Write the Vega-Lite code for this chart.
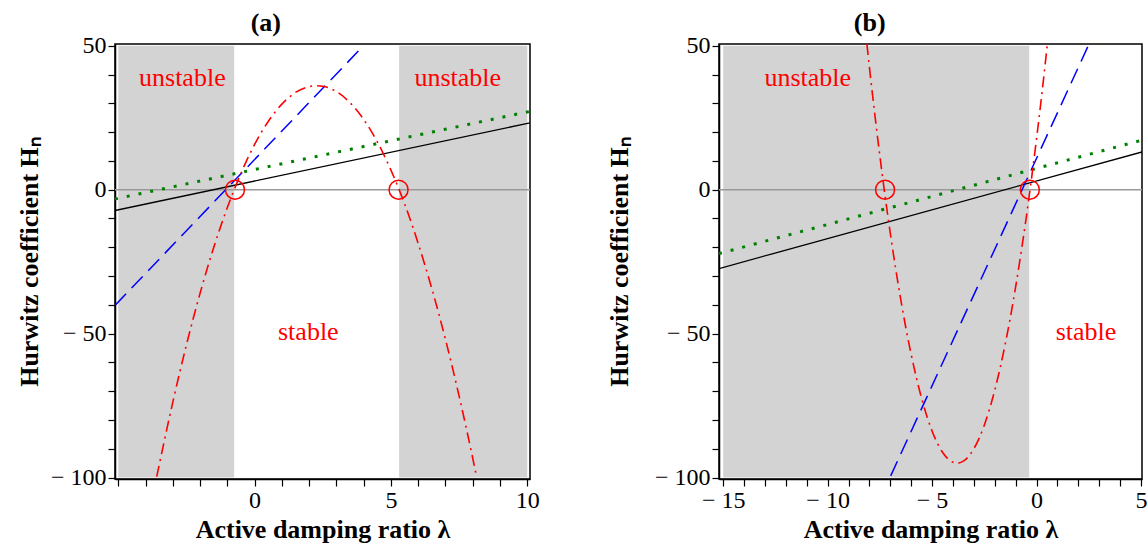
{
  "$schema": "https://vega.github.io/schema/vega-lite/v6.json",
  "background": "white",
  "padding": {"left": 15, "top": 8, "right": 0, "bottom": 3},
  "spacing": 189,
  "bounds": "flush",
  "config": {
    "view": {"stroke": "black", "strokeWidth": 1.5},
    "font": "Liberation Serif",
    "axis": {
      "grid": false, "domainColor": "black", "domainWidth": 1.5, "tickColor": "black", "tickWidth": 1.2, "tickSize": 7, "labelPadding": 2,
      "labelFont": "Liberation Serif", "labelFontSize": 24, "labelColor": "black", "labelOverlap": false, "labelFlush": false,
      "titleFont": "Liberation Serif", "titleFontSize": 26, "titleFontWeight": "bold", "titleColor": "black"
    },
    "title": {"font": "Liberation Serif", "fontSize": 26, "fontWeight": "bold", "color": "black", "frame": "bounds", "anchor": "middle", "offset": -2}
  },
  "datasets": {
    "curvesA": [
      {"series": "black", "lam": -5.12, "H": -7.24},
      {"series": "black", "lam": 10.1, "H": 23.2},
      {"series": "green", "lam": -5.12, "H": -3.24},
      {"series": "green", "lam": 10.1, "H": 27.2},
      {"series": "blue", "lam": -5.12, "H": -40.2},
      {"series": "blue", "lam": 3.85, "H": 48.6},
      {"series": "red", "lam": -3.59, "H": -99.7},
      {"series": "red", "lam": -3.0, "H": -73.8},
      {"series": "red", "lam": -2.5, "H": -53.9},
      {"series": "red", "lam": -2.0, "H": -36.0},
      {"series": "red", "lam": -1.5, "H": -20.1},
      {"series": "red", "lam": -1.0, "H": -6.2},
      {"series": "red", "lam": -0.5, "H": 5.7},
      {"series": "red", "lam": 0.0, "H": 15.7},
      {"series": "red", "lam": 0.5, "H": 23.7},
      {"series": "red", "lam": 1.0, "H": 29.7},
      {"series": "red", "lam": 1.5, "H": 33.8},
      {"series": "red", "lam": 2.0, "H": 35.8},
      {"series": "red", "lam": 2.275, "H": 36.1},
      {"series": "red", "lam": 2.5, "H": 35.9},
      {"series": "red", "lam": 3.0, "H": 34.1},
      {"series": "red", "lam": 3.5, "H": 30.2},
      {"series": "red", "lam": 4.0, "H": 24.4},
      {"series": "red", "lam": 4.5, "H": 16.6},
      {"series": "red", "lam": 5.0, "H": 6.8},
      {"series": "red", "lam": 5.5, "H": -4.9},
      {"series": "red", "lam": 6.0, "H": -18.7},
      {"series": "red", "lam": 6.5, "H": -34.4},
      {"series": "red", "lam": 7.0, "H": -52.0},
      {"series": "red", "lam": 7.5, "H": -71.7},
      {"series": "red", "lam": 8.0, "H": -93.3},
      {"series": "red", "lam": 8.14, "H": -99.7}
    ],
    "curvesB": [
      {"series": "black", "lam": -15.2, "H": -27.4},
      {"series": "black", "lam": 5.05, "H": 13.1},
      {"series": "green", "lam": -15.2, "H": -22.2},
      {"series": "green", "lam": 5.05, "H": 17.2},
      {"series": "blue", "lam": -6.98, "H": -99.4},
      {"series": "blue", "lam": 2.47, "H": 49.9},
      {"series": "red", "lam": -8.12, "H": 50.6},
      {"series": "red", "lam": -8.0, "H": 42.6},
      {"series": "red", "lam": -7.75, "H": 26.7},
      {"series": "red", "lam": -7.5, "H": 11.8},
      {"series": "red", "lam": -7.25, "H": -2.2},
      {"series": "red", "lam": -7.0, "H": -15.1},
      {"series": "red", "lam": -6.75, "H": -27.1},
      {"series": "red", "lam": -6.5, "H": -38.1},
      {"series": "red", "lam": -6.25, "H": -48.2},
      {"series": "red", "lam": -6.0, "H": -57.2},
      {"series": "red", "lam": -5.5, "H": -72.5},
      {"series": "red", "lam": -5.0, "H": -83.8},
      {"series": "red", "lam": -4.5, "H": -91.2},
      {"series": "red", "lam": -4.0, "H": -94.7},
      {"series": "red", "lam": -3.8, "H": -95.0},
      {"series": "red", "lam": -3.5, "H": -94.3},
      {"series": "red", "lam": -3.0, "H": -90.0},
      {"series": "red", "lam": -2.5, "H": -81.8},
      {"series": "red", "lam": -2.0, "H": -69.7},
      {"series": "red", "lam": -1.75, "H": -62.2},
      {"series": "red", "lam": -1.5, "H": -53.7},
      {"series": "red", "lam": -1.25, "H": -44.3},
      {"series": "red", "lam": -1.0, "H": -33.8},
      {"series": "red", "lam": -0.75, "H": -22.4},
      {"series": "red", "lam": -0.5, "H": -10.1},
      {"series": "red", "lam": -0.25, "H": 3.3},
      {"series": "red", "lam": 0.0, "H": 17.6},
      {"series": "red", "lam": 0.25, "H": 32.9},
      {"series": "red", "lam": 0.52, "H": 50.6}
    ],
    "regionsA": [
      {"x0": -5, "x1": -0.75, "y0": -100, "y1": 50},
      {"x0": 5.3, "x1": 10, "y0": -100, "y1": 50}
    ],
    "regionsB": [
      {"x0": -15, "x1": -0.35, "y0": -100, "y1": 50}
    ],
    "zero": [{"H": 0}],
    "rootsA": [{"lam": -0.72, "H": 0}, {"lam": 5.28, "H": 0}],
    "rootsB": [{"lam": -7.25, "H": 0}, {"lam": -0.32, "H": 0}],
    "labelsA": [
      {"lam": -2.65, "H": 38.8, "text": "unstable"},
      {"lam": 7.45, "H": 38.8, "text": "unstable"},
      {"lam": 1.97, "H": -49.5, "text": "stable"}
    ],
    "labelsB": [
      {"lam": -10.95, "H": 38.8, "text": "unstable"},
      {"lam": 2.37, "H": -49.5, "text": "stable"}
    ]
  },
  "hconcat": [
    {
      "title": {"text": "(a)", "dx": -12},
      "width": 415,
      "height": 435,
      "encoding": {
        "x": {"type": "quantitative", "scale": {"domain": [-5.12, 10.1], "nice": false, "zero": false},
          "axis": {"title": "Active damping ratio λ", "labelFont": "Liberation Serif", "values": [-5,-4,-3,-2,-1,0,1,2,3,4,5,6,7,8,9,10],
            "labelExpr": "(datum.value % 5 === 0 && datum.value > -5) ? (datum.value < 0 ? '− ' + abs(datum.value) : '' + datum.value) : ''"}},
        "y": {"type": "quantitative", "scale": {"domain": [-100.5, 50.6], "nice": false, "zero": false},
          "axis": {"title": "Hurwitz coefficient Hₙ", "labelFont": "Liberation Serif", "titlePadding": 8, "values": [-100,-90,-80,-70,-60,-50,-40,-30,-20,-10,0,10,20,30,40,50],
            "labelExpr": "(datum.value % 50 === 0) ? (datum.value < 0 ? '− ' + abs(datum.value) : '' + datum.value) : ''"}}
      },
      "layer": [
        {"data": {"name": "regionsA"}, "mark": {"type": "rect", "color": "#d3d3d3"},
          "encoding": {"x": {"field": "x0"}, "x2": {"field": "x1"}, "y": {"field": "y0"}, "y2": {"field": "y1"}}},
        {"data": {"name": "zero"}, "mark": {"type": "rule", "color": "#999999", "strokeWidth": 1.5},
          "encoding": {"x": null, "y": {"field": "H"}}},
        {"data": {"name": "curvesA"}, "transform": [{"filter": "datum.series === 'black'"}],
          "mark": {"type": "line", "clip": true, "color": "#000000", "strokeWidth": 1.3},
          "encoding": {"x": {"field": "lam"}, "y": {"field": "H"}}},
        {"data": {"name": "curvesA"}, "transform": [{"filter": "datum.series === 'green'"}],
          "mark": {"type": "line", "clip": true, "color": "#008000", "strokeWidth": 3, "strokeDash": [3, 9], "strokeCap": "butt"},
          "encoding": {"x": {"field": "lam"}, "y": {"field": "H"}}},
        {"data": {"name": "curvesA"}, "transform": [{"filter": "datum.series === 'blue'"}],
          "mark": {"type": "line", "clip": true, "color": "#0000ff", "strokeWidth": 1.5, "strokeDash": [16, 8]},
          "encoding": {"x": {"field": "lam"}, "y": {"field": "H"}}},
        {"data": {"name": "curvesA"}, "transform": [{"filter": "datum.series === 'red'"}],
          "mark": {"type": "line", "clip": true, "color": "#ff0000", "strokeWidth": 1.6, "strokeDash": [11, 5, 2, 5], "interpolate": "monotone"},
          "encoding": {"x": {"field": "lam"}, "y": {"field": "H"}}},
        {"data": {"name": "rootsA"}, "mark": {"type": "point", "shape": "circle", "filled": false, "color": "#ff0000", "strokeWidth": 1.5, "size": 361, "opacity": 1},
          "encoding": {"x": {"field": "lam"}, "y": {"field": "H"}}},
        {"data": {"name": "labelsA"}, "mark": {"type": "text", "font": "Liberation Serif", "fontSize": 26, "color": "#ff0000", "align": "center", "baseline": "middle"},
          "encoding": {"x": {"field": "lam"}, "y": {"field": "H"}, "text": {"field": "text"}}}
      ]
    },
    {
      "title": {"text": "(b)", "dx": -7},
      "width": 423,
      "height": 435,
      "encoding": {
        "x": {"type": "quantitative", "scale": {"domain": [-15.2, 5.05], "nice": false, "zero": false},
          "axis": {"title": "Active damping ratio λ", "labelFont": "Liberation Serif", "values": [-15,-14,-13,-12,-11,-10,-9,-8,-7,-6,-5,-4,-3,-2,-1,0,1,2,3,4,5],
            "labelExpr": "(datum.value % 5 === 0) ? (datum.value < 0 ? '− ' + abs(datum.value) : '' + datum.value) : ''"}},
        "y": {"type": "quantitative", "scale": {"domain": [-100.5, 50.6], "nice": false, "zero": false},
          "axis": {"title": "Hurwitz coefficient Hₙ", "labelFont": "Liberation Serif", "titlePadding": 22, "values": [-100,-90,-80,-70,-60,-50,-40,-30,-20,-10,0,10,20,30,40,50],
            "labelExpr": "(datum.value % 50 === 0) ? (datum.value < 0 ? '− ' + abs(datum.value) : '' + datum.value) : ''"}}
      },
      "layer": [
        {"data": {"name": "regionsB"}, "mark": {"type": "rect", "color": "#d3d3d3"},
          "encoding": {"x": {"field": "x0"}, "x2": {"field": "x1"}, "y": {"field": "y0"}, "y2": {"field": "y1"}}},
        {"data": {"name": "zero"}, "mark": {"type": "rule", "color": "#999999", "strokeWidth": 1.5},
          "encoding": {"x": null, "y": {"field": "H"}}},
        {"data": {"name": "curvesB"}, "transform": [{"filter": "datum.series === 'black'"}],
          "mark": {"type": "line", "clip": true, "color": "#000000", "strokeWidth": 1.3},
          "encoding": {"x": {"field": "lam"}, "y": {"field": "H"}}},
        {"data": {"name": "curvesB"}, "transform": [{"filter": "datum.series === 'green'"}],
          "mark": {"type": "line", "clip": true, "color": "#008000", "strokeWidth": 3, "strokeDash": [3, 9], "strokeCap": "butt"},
          "encoding": {"x": {"field": "lam"}, "y": {"field": "H"}}},
        {"data": {"name": "curvesB"}, "transform": [{"filter": "datum.series === 'blue'"}],
          "mark": {"type": "line", "clip": true, "color": "#0000ff", "strokeWidth": 1.5, "strokeDash": [16, 8]},
          "encoding": {"x": {"field": "lam"}, "y": {"field": "H"}}},
        {"data": {"name": "curvesB"}, "transform": [{"filter": "datum.series === 'red'"}],
          "mark": {"type": "line", "clip": true, "color": "#ff0000", "strokeWidth": 1.6, "strokeDash": [11, 5, 2, 5], "interpolate": "monotone"},
          "encoding": {"x": {"field": "lam"}, "y": {"field": "H"}}},
        {"data": {"name": "rootsB"}, "mark": {"type": "point", "shape": "circle", "filled": false, "color": "#ff0000", "strokeWidth": 1.5, "size": 361, "opacity": 1},
          "encoding": {"x": {"field": "lam"}, "y": {"field": "H"}}},
        {"data": {"name": "labelsB"}, "mark": {"type": "text", "font": "Liberation Serif", "fontSize": 26, "color": "#ff0000", "align": "center", "baseline": "middle"},
          "encoding": {"x": {"field": "lam"}, "y": {"field": "H"}, "text": {"field": "text"}}}
      ]
    }
  ]
}
